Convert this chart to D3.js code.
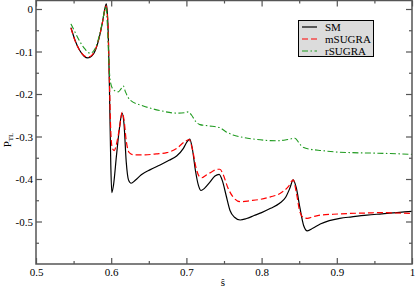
<!DOCTYPE html>
<html><head><meta charset="utf-8">
<script src="https://cdn.jsdelivr.net/npm/d3@7"></script>
<style>
html,body{margin:0;padding:0;background:#fff;}
svg{display:block;}
text{font-family:"Liberation Serif","Times New Roman",Times,"DejaVu Serif",serif;fill:#000;}
</style></head>
<body><svg id="c" width="415" height="291"></svg>
<script>
// ---- data ----
const smS = [0.5465,0.552,0.558,0.564,0.569,0.574,0.579,0.584,0.588,0.5915,0.5935,0.5955,0.5975,0.5995,0.6008,0.603,0.607,0.611,0.6145,0.617,0.620,0.623,0.6265,0.632,0.640,0.652,0.665,0.677,0.687,0.696,0.701,0.7045,0.708,0.712,0.716,0.7195,0.724,0.731,0.738,0.7435,0.748,0.753,0.758,0.764,0.7715,0.780,0.790,0.800,0.812,0.824,0.832,0.8375,0.842,0.846,0.851,0.856,0.8608,0.868,0.878,0.890,0.904,0.920,0.940,0.960,0.980,1.0];
const smP = [-0.044,-0.074,-0.097,-0.111,-0.115,-0.111,-0.097,-0.068,-0.035,0.0,0.012,-0.03,-0.17,-0.37,-0.432,-0.415,-0.345,-0.28,-0.245,-0.27,-0.36,-0.402,-0.41,-0.403,-0.39,-0.378,-0.367,-0.356,-0.346,-0.328,-0.312,-0.306,-0.33,-0.38,-0.415,-0.427,-0.422,-0.408,-0.393,-0.389,-0.405,-0.44,-0.474,-0.49,-0.4965,-0.493,-0.486,-0.479,-0.469,-0.457,-0.443,-0.422,-0.402,-0.42,-0.468,-0.510,-0.522,-0.516,-0.506,-0.498,-0.4925,-0.489,-0.485,-0.482,-0.479,-0.476];

const mS = [0.5465,0.552,0.558,0.564,0.569,0.574,0.579,0.584,0.588,0.5915,0.593,0.5955,0.5975,0.5995,0.6015,0.604,0.607,0.611,0.6145,0.617,0.620,0.624,0.630,0.645,0.660,0.674,0.687,0.698,0.7035,0.708,0.713,0.7175,0.7205,0.726,0.734,0.741,0.7445,0.749,0.755,0.7615,0.7715,0.785,0.798,0.812,0.8245,0.8355,0.842,0.846,0.851,0.856,0.8608,0.868,0.8777,0.895,0.9175,0.94,0.9618,0.98,1.0];
const mP = [-0.045,-0.075,-0.097,-0.110,-0.113,-0.109,-0.095,-0.067,-0.035,-0.003,0.007,-0.03,-0.16,-0.29,-0.328,-0.333,-0.318,-0.28,-0.243,-0.26,-0.31,-0.338,-0.343,-0.343,-0.341,-0.338,-0.328,-0.312,-0.307,-0.33,-0.375,-0.395,-0.397,-0.391,-0.383,-0.377,-0.377,-0.39,-0.42,-0.441,-0.4534,-0.451,-0.448,-0.442,-0.434,-0.418,-0.402,-0.43,-0.478,-0.491,-0.4925,-0.489,-0.485,-0.483,-0.481,-0.48,-0.479,-0.48,-0.481];

const rS = [0.5465,0.552,0.5585,0.565,0.5718,0.576,0.580,0.584,0.588,0.5915,0.593,0.595,0.597,0.599,0.603,0.6094,0.613,0.616,0.619,0.625,0.6427,0.665,0.687,0.698,0.7025,0.707,0.712,0.718,0.730,0.744,0.752,0.762,0.775,0.789,0.805,0.820,0.835,0.8444,0.850,0.856,0.865,0.880,0.8954,0.920,0.945,0.97,1.0];
const rP = [-0.035,-0.055,-0.077,-0.094,-0.104,-0.1,-0.088,-0.064,-0.033,-0.002,0.006,-0.04,-0.13,-0.172,-0.19,-0.195,-0.188,-0.181,-0.195,-0.214,-0.228,-0.239,-0.245,-0.244,-0.242,-0.25,-0.264,-0.272,-0.275,-0.279,-0.288,-0.2965,-0.302,-0.306,-0.309,-0.31,-0.307,-0.304,-0.316,-0.326,-0.33,-0.333,-0.336,-0.338,-0.339,-0.34,-0.342];

const seriesNames = ["SM","mSUGRA","rSUGRA"];
const xTicks = [0.5,0.6,0.7,0.8,0.9,1];
const xTickLabels = ["0.5","0.6","0.7","0.8","0.9","1"];
const yTicks = [0,-0.1,-0.2,-0.3,-0.4,-0.5];
const yTickLabels = ["0","-0.1","-0.2","-0.3","-0.4","-0.5"];

// ---- layout ----
const L = 36, R = 412, T = 0.5, B = 264;
const svg = d3.select("#c");
const x = d3.scaleLinear().domain([0.5,1]).range([L,R]);
const y = d3.scaleLinear().domain([-0.6,0.02]).range([B,T]);

svg.append("clipPath").attr("id","pc").append("rect")
  .attr("x",L).attr("y",T).attr("width",R-L).attr("height",B-T);

const line = d3.line().x(d=>x(d[0])).y(d=>y(d[1])).curve(d3.curveMonotoneX);
const styles = [
  {c:"#000000", w:1.2, dash:null},
  {c:"#ff0000", w:1.2, dash:"6,3"},
  {c:"#1f9a1f", w:1.1, dash:"6,2.5,1.5,2.5"}
];
const data = [d3.zip(smS,smP), d3.zip(mS,mP), d3.zip(rS,rP)];
const g = svg.append("g").attr("clip-path","url(#pc)");
[0,1,2].forEach(i=>{
  g.append("path").datum(data[i]).attr("d",line)
   .attr("fill","none").attr("stroke",styles[i].c).attr("stroke-width",styles[i].w)
   .attr("stroke-dasharray",styles[i].dash);
});

// ---- axes (ticks pointing inward, on all four sides) ----
const axColor = "#555";
const minorX = [0.55,0.65,0.75,0.85,0.95];
const minorY = [-0.05,-0.15,-0.25,-0.35,-0.45,-0.55];
function ax(axis, tr){ return svg.append("g").attr("transform",tr).call(axis); }
ax(d3.axisBottom(x).tickValues(xTicks).tickFormat((d,i)=>xTickLabels[i]).tickSizeInner(-6).tickSizeOuter(0).tickPadding(4), `translate(0,${B})`);
ax(d3.axisBottom(x).tickValues(minorX).tickFormat("").tickSizeInner(-3).tickSizeOuter(0), `translate(0,${B})`);
ax(d3.axisTop(x).tickValues(xTicks).tickFormat("").tickSizeInner(-6).tickSizeOuter(0), `translate(0,${T})`);
ax(d3.axisTop(x).tickValues(minorX).tickFormat("").tickSizeInner(-3).tickSizeOuter(0), `translate(0,${T})`);
ax(d3.axisLeft(y).tickValues(yTicks).tickFormat((d,i)=>yTickLabels[i]).tickSizeInner(-6).tickSizeOuter(0).tickPadding(3), `translate(${L},0)`);
ax(d3.axisLeft(y).tickValues(minorY).tickFormat("").tickSizeInner(-3).tickSizeOuter(0), `translate(${L},0)`);
ax(d3.axisRight(y).tickValues(yTicks).tickFormat("").tickSizeInner(-6).tickSizeOuter(0), `translate(${R},0)`);
ax(d3.axisRight(y).tickValues(minorY).tickFormat("").tickSizeInner(-3).tickSizeOuter(0), `translate(${R},0)`);
svg.selectAll(".domain").remove();
svg.selectAll(".tick line").attr("stroke",axColor).attr("stroke-width",1.2);
svg.selectAll(".tick text").attr("font-size",11).attr("fill","#000");
svg.append("rect").attr("x",L).attr("y",T).attr("width",R-L).attr("height",B-T)
  .attr("fill","none").attr("stroke",axColor).attr("stroke-width",1.5);

// ---- axis titles ----
const yl = svg.append("text").attr("transform","translate(11,140) rotate(-90)")
  .attr("text-anchor","middle").attr("font-size",11);
yl.append("tspan").text("P");
yl.append("tspan").attr("font-size",7).attr("dy",2).text("TL");
svg.append("text").attr("x",223).attr("y",286).attr("text-anchor","middle")
  .attr("font-size",11).text("\u015D");

// ---- legend ----
const lg = svg.append("g");
lg.append("rect").attr("x",298.5).attr("y",20.5).attr("width",75).attr("height",36)
  .attr("fill","#dcdcdc").attr("stroke","#000").attr("stroke-width",1);
seriesNames.forEach((n,i)=>{
  const yy = 27 + i*12;
  lg.append("line").attr("x1",302).attr("x2",317).attr("y1",yy).attr("y2",yy)
    .attr("stroke",styles[i].c).attr("stroke-width",styles[i].w).attr("stroke-dasharray",styles[i].dash);
  lg.append("text").attr("x",325).attr("y",yy+4).attr("font-size",11).text(n);
});
</script></body></html>
